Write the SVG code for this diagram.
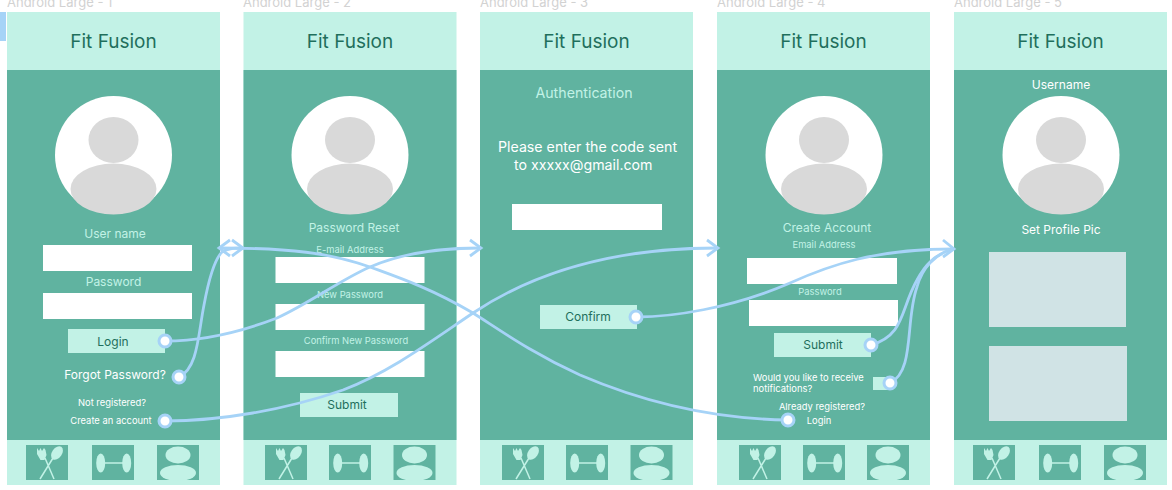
<svg xmlns="http://www.w3.org/2000/svg" width="1172" height="490" viewBox="0 0 1172 490">
<style>
text{font-family:Inter,"Noto Sans","Liberation Sans",sans-serif}
.bg{fill:#60b3a0}.hd{fill:#c2f2e6}.f{fill:#fff}.btn{fill:#c2f2e6}
.title{font-size:19px;fill:#1f6f5c;text-anchor:middle}
.lab{fill:#c2f2e6;text-anchor:middle;font-size:12px}
.w{fill:#fff;text-anchor:middle;font-size:12px}
.bt{fill:#1f6f5c;text-anchor:middle;font-size:12px}
.s{font-size:9.400px}
.frame{fill:#d2d2d2;font-size:13px}
.av{fill:#d9d9d9}.ph{fill:#d0e3e5}
.c{fill:none;stroke:#a6d3f7;stroke-width:2.800}
.dot{fill:#fff;stroke:#a6d3f7;stroke-width:3}
.ic{fill:#60b3a0}.ii{fill:#c2f2e6}.is{stroke:#c2f2e6;stroke-width:1.500;fill:none}
</style>
<defs>
<g id="screen">
<rect class="hd" width="213" height="473"/>
<rect class="bg" y="58" width="213" height="370"/>
<text class="title" x="106.500" y="36">Fit Fusion</text>
</g>
<g id="avatar">
<ellipse class="f" cx="0" cy="0" rx="58.500" ry="59"/>
<ellipse class="av" cx="0" cy="-15" rx="25" ry="23"/>
<ellipse class="av" cx="0" cy="34" rx="43" ry="25.500"/>
</g>
<g id="fork">
<rect class="ic" width="42" height="35"/>
<path class="is" d="M14 34 L27 13 M28 34 L19 13"/>
<ellipse class="ii" cx="31" cy="8" rx="5" ry="7.500" transform="rotate(35 31 8)"/>
<path class="ii" d="M11 3l2 3 1.500-3 1.500 3 2-3 1.500 2 1 5-2 5-4 0-3.500-6z"/>
</g>
<g id="bell">
<rect class="ic" width="42" height="35"/>
<ellipse class="ii" cx="8.700" cy="18" rx="4.500" ry="9.500"/>
<ellipse class="ii" cx="34.700" cy="18" rx="4.500" ry="9.500"/>
<path class="is" d="M12 18h19"/>
</g>
<g id="person">
<rect class="ic" width="42" height="35"/>
<ellipse class="ii" cx="21" cy="10" rx="12.500" ry="8.500"/>
<ellipse class="ii" cx="21" cy="28" rx="18" ry="8"/>
</g>
</defs>
<rect width="1172" height="490" fill="#fff"/>
<rect x="0" y="12" width="6" height="29" fill="#a6d3f7"/>
<text class="frame" x="7" y="7">Android Large - 1</text>
<text class="frame" x="243" y="7">Android Large - 2</text>
<text class="frame" x="480" y="7">Android Large - 3</text>
<text class="frame" x="717" y="7">Android Large - 4</text>
<text class="frame" x="954" y="7">Android Large - 5</text>

<g id="screen1">
<use href="#screen" x="7" y="12"/>
<use href="#avatar" x="113.500" y="155"/>
<text class="lab" x="115" y="238">User name</text>
<rect class="f" x="43" y="245" width="149" height="26"/>
<text class="lab" x="113.500" y="286">Password</text>
<rect class="f" x="43" y="293" width="149" height="26"/>
<rect class="btn" x="68" y="329" width="97" height="24"/>
<text class="bt" x="113" y="345.500">Login</text>
<text class="w" x="115" y="379">Forgot Password?</text>
<text class="w s" x="112" y="406">Not registered?</text>
<text class="w s" x="111" y="424">Create an account</text>
<use href="#fork" x="26" y="445"/><use href="#bell" x="92" y="445"/><use href="#person" x="157" y="445"/>
</g>
<g id="screen2">
<use href="#screen" x="243.500" y="12"/>
<use href="#avatar" x="350" y="155"/>
<text class="lab" x="354" y="232">Password Reset</text>
<text class="lab s" x="350" y="253">E-mail Address</text>
<rect class="f" x="275.500" y="257" width="149" height="26"/>
<text class="lab s" x="350" y="298">New Password</text>
<rect class="f" x="275.500" y="304" width="149" height="26"/>
<text class="lab s" x="356" y="344">Confirm New Password</text>
<rect class="f" x="275.500" y="351" width="149" height="26"/>
<rect class="btn" x="300" y="393" width="98" height="24"/>
<text class="bt" x="347" y="409">Submit</text>
<use href="#fork" x="265" y="445"/><use href="#bell" x="329" y="445"/><use href="#person" x="393.500" y="445"/>
</g>
<g id="screen3">
<use href="#screen" x="480" y="12"/>
<text class="lab" x="584" y="98" style="font-size:14.200px">Authentication</text>
<text class="w" x="498" y="152" style="text-anchor:start;font-size:14.200px">Please enter the code sent</text>
<text class="w" x="514" y="170" style="text-anchor:start;font-size:14.200px">to xxxxx@gmail.com</text>
<rect class="f" x="512" y="204" width="150" height="26"/>
<rect class="btn" x="540" y="305" width="97" height="24"/>
<text class="bt" x="588" y="321">Confirm</text>
<use href="#fork" x="502" y="445"/><use href="#bell" x="566" y="445"/><use href="#person" x="630.500" y="445"/>
</g>
<g id="screen4">
<use href="#screen" x="717" y="12"/>
<use href="#avatar" x="824" y="155"/>
<text class="lab" x="827" y="232">Create Account</text>
<text class="lab s" x="824" y="248">Email Address</text>
<rect class="f" x="747" y="258" width="150" height="26"/>
<text class="lab s" x="820" y="295">Password</text>
<rect class="f" x="749" y="300" width="149" height="26"/>
<rect class="btn" x="774" y="333" width="97" height="24"/>
<text class="bt" x="823" y="349">Submit</text>
<text class="w s" x="753" y="381" style="text-anchor:start">Would you like to receive</text>
<text class="w s" x="753" y="392" style="text-anchor:start">notifications?</text>
<rect class="btn" x="873" y="377" width="17" height="13"/>
<text class="w s" x="822" y="410">Already registered?</text>
<text class="w s" x="819" y="424">Login</text>
<use href="#fork" x="739" y="445"/><use href="#bell" x="803" y="445"/><use href="#person" x="867" y="445"/>
</g>
<g id="screen5">
<use href="#screen" x="954" y="12"/>
<text class="w" x="1061" y="89">Username</text>
<use href="#avatar" x="1061" y="155"/>
<text class="w" x="1061" y="234">Set Profile Pic</text>
<rect class="ph" x="989" y="252" width="137" height="75"/>
<rect class="ph" x="989" y="346" width="138" height="75"/>
<use href="#fork" x="973" y="445"/><use href="#bell" x="1039" y="445"/><use href="#person" x="1104" y="445"/>
</g>

<g id="connectors">
<path class="c" d="M165 341 C190 341 225 338 277 318 C310 303 340 280 370 267 C400 254 440 248 480 248"/>
<path class="c" d="M179 377 C198 368 198 335 204 305 C209 278 214 260 222 252 C228 248 235 248 243 248"/>
<path class="c" d="M165 421 C220 421 285 410 343 390 C390 372 430 342 473 313 C515 285 590 248 717 248"/>
<path class="c" d="M637 317 C670 317 730 309 790 283 C830 265 875 249 953 249"/>
<path class="c" d="M871 345 C905 335 900 310 917 280 C925 265 935 254 953 249"/>
<path class="c" d="M890 383 C915 372 905 320 917 287 C922 268 935 254 953 249"/>
<path class="c" d="M788 420 C720 419 650 405 580 375 C530 352 500 330 473 313 C430 288 400 278 370 267 C330 253 290 248 219 248"/>
<path class="c" d="M232 240l11 8-11 8"/>
<path class="c" d="M230 240l-11 8 11 8"/>
<path class="c" d="M470 240l11 8-11 8"/>
<path class="c" d="M707 240l11 8-11 8"/>
<path class="c" d="M943 240l11 9-11 8"/>
<circle class="dot" cx="165" cy="341" r="6"/>
<circle class="dot" cx="179" cy="377" r="6"/>
<circle class="dot" cx="165" cy="421" r="6"/>
<circle class="dot" cx="636" cy="317" r="6"/>
<circle class="dot" cx="871" cy="345" r="6"/>
<circle class="dot" cx="890" cy="383" r="6"/>
<circle class="dot" cx="788" cy="420" r="6"/>
</g>
</svg>
